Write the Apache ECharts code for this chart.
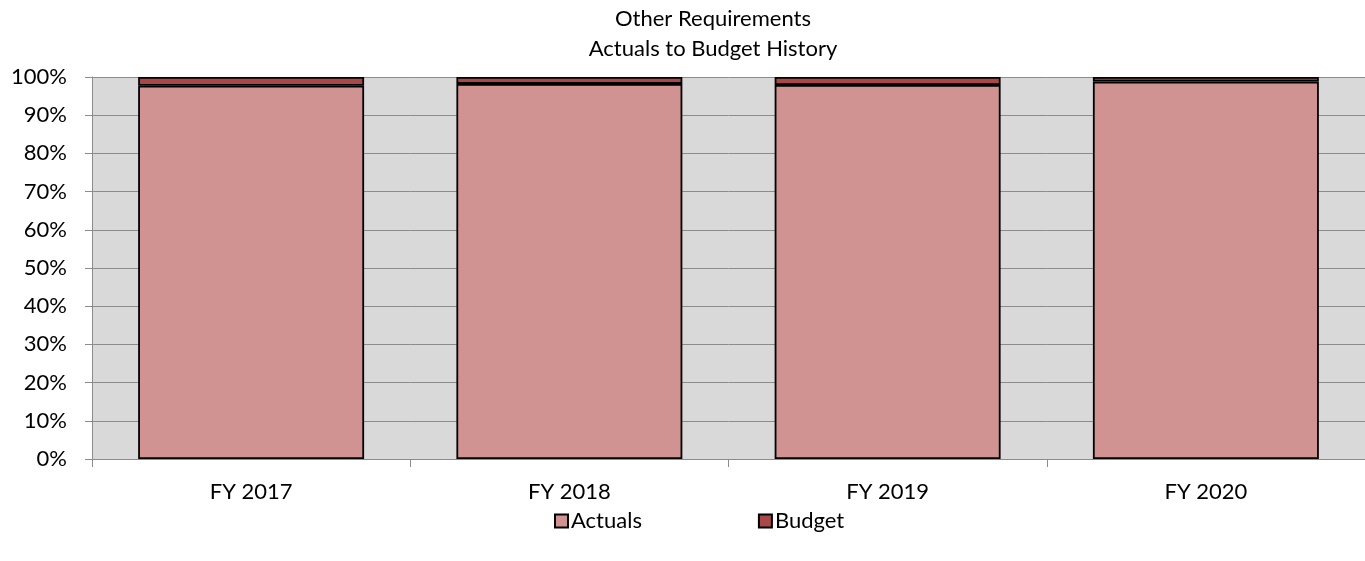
<!DOCTYPE html>
<html>
<head>
<meta charset="utf-8">
<script src="https://cdn.jsdelivr.net/npm/echarts@6/dist/echarts.min.js"></script>
<style>
  html, body { margin: 0; padding: 0; background: #fff; }
  #chart { width: 1365px; height: 561px; }
</style>
</head>
<body>
<div id="chart"></div>
<script>
// 数据
const categories = ["FY 2017", "FY 2018", "FY 2019", "FY 2020"];
const actuals = [97.7, 98.2, 97.9, 98.8];
const budget = [2.3, 1.8, 2.1, 1.2];
const yTicks = [0, 10, 20, 30, 40, 50, 60, 70, 80, 90, 100];

const font = "Lato, 'Open Sans', sans-serif";
const chart = echarts.init(document.getElementById("chart"));

chart.setOption({
  animation: false,
  title: {
    text: "Other Requirements\nActuals to Budget History",
    left: 708,
    textAlign: "center",
    top: -1,
    textStyle: { fontFamily: font, fontSize: 22, fontWeight: "normal", color: "#000", lineHeight: 30 },
  },
  grid: {
    left: 92, right: 0, top: 77, bottom: 102,
    show: true, backgroundColor: "#d9d9d9", borderWidth: 0,
  },
  legend: {
    top: 505,
    left: 549,
    itemGap: 116,
    itemWidth: 13,
    itemHeight: 13,
    icon: "rect",
    textStyle: { fontFamily: font, fontSize: 22, color: "#000", padding: [0, 0, 0, -2] },
    data: ["Actuals", "Budget"],
  },
  xAxis: {
    type: "category",
    data: categories,
    axisLine: { lineStyle: { color: "#8c8c8c", width: 1 } },
    axisTick: { show: true, length: 8, lineStyle: { color: "#8c8c8c" } },
    axisLabel: { fontFamily: font, fontSize: 22, color: "#000", margin: 22 },
  },
  yAxis: {
    type: "value",
    min: 0, max: 100, interval: 10,
    axisLine: { show: true, lineStyle: { color: "#8c8c8c" } },
    axisTick: { show: true, length: 7, lineStyle: { color: "#8c8c8c" } },
    splitLine: { lineStyle: { color: "#8c8c8c", width: 1 } },
    axisLabel: {
      fontFamily: font, fontSize: 22, color: "#000", margin: 25,
      formatter: (v) => (yTicks.includes(v) ? v + "%" : ""),
    },
  },
  series: [
    {
      name: "Actuals",
      type: "bar",
      stack: "total",
      barCategoryGap: "29%",
      data: actuals,
      itemStyle: { color: "#d19292", borderColor: "#000", borderWidth: 1.8 },
    },
    {
      name: "Budget",
      type: "bar",
      stack: "total",
      data: budget,
      itemStyle: { color: "#a84848", borderColor: "#000", borderWidth: 1.8 },
    },
  ],
});
</script>
</body>
</html>
